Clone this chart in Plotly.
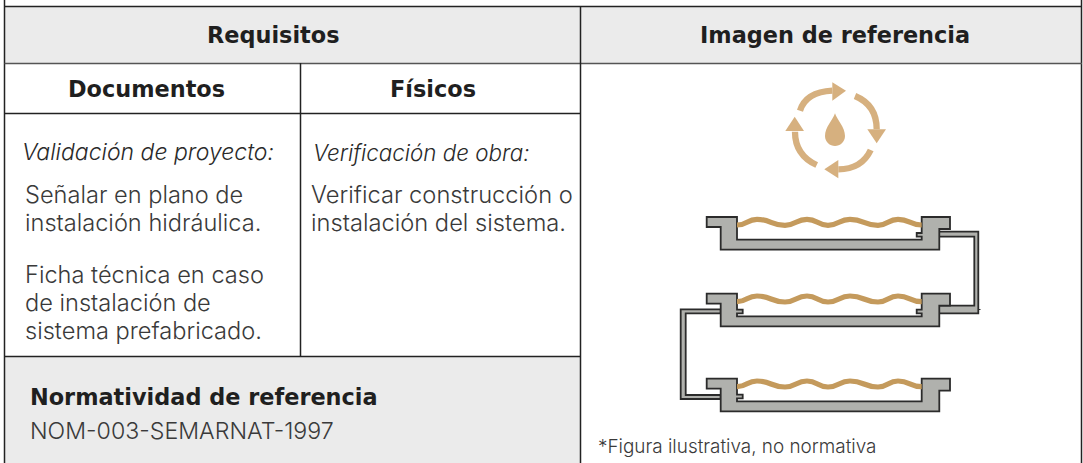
import plotly.graph_objects as go

FONT = "Inter"
BOLD_FONT = "DejaVu Sans"
INK = "#1f1f1f"
TEXT = "#3a3a3a"
GOLD = "#d6b07f"
WAVE = "#c49a5c"
STEEL = "#b0b1ad"
EDGE = "#2b2b2b"
LINE = "#222222"
HEAD = "#ebebeb"

titles = ["Requisitos", "Imagen de referencia", "Documentos", "Físicos", "Normatividad de referencia"]
subtitles = ["Validación de proyecto:", "Verificación de obra:"]
doc_lines = ["Señalar en plano de", "instalación hidráulica.", "Ficha técnica en caso", "de instalación de", "sistema prefabricado."]
phys_lines = ["Verificar construcción o", "instalación del sistema."]
norm = "NOM-003-SEMARNAT-1997"
note = "*Figura ilustrativa, no normativa"

shapes = []
annos = []

def rect(x0, y0, x1, y1, fill):
    shapes.append(dict(type="rect", x0=x0, y0=y0, x1=x1, y1=y1, fillcolor=fill, line=dict(width=0), layer="below"))

def seg(x0, y0, x1, y1, w=1.5, c=LINE):
    shapes.append(dict(type="line", x0=x0, y0=y0, x1=x1, y1=y1, line=dict(color=c, width=w)))

def path(d, fill=None, line=None, w=0):
    shapes.append(dict(type="path", path=d, fillcolor=fill or "rgba(0,0,0,0)",
                       line=dict(color=line or "rgba(0,0,0,0)", width=w)))

def txt(s, x, y, size, anchor="left", weight=300, color=TEXT, style="normal", family=FONT):
    annos.append(dict(text=s, x=x, y=y, xref="x", yref="y", xanchor=anchor, yanchor="middle",
                      xshift=-3 if anchor == "left" else 0,
                      showarrow=False, font=dict(family=family, size=size, color=color, weight=weight, style=style)))

def head(s, x, y, anchor="center"):
    txt(s, x, y, 22.4, anchor, 700, INK, family=BOLD_FONT)

# table
rect(5, 6, 1081, 63, HEAD)
rect(5, 356, 580, 463, HEAD)
seg(4.5, 0, 4.5, 463)
seg(1081.5, 0, 1081.5, 463)
seg(4.5, 6.5, 1082, 6.5)
seg(4.5, 63.5, 1082, 63.5, c="#555555")
seg(4.5, 113.5, 580, 113.5)
seg(4.5, 356.5, 580, 356.5)
seg(300.5, 63, 300.5, 356.5)
seg(580.5, 6, 580.5, 463)

# text
head(titles[0], 273.5, 35)
head(titles[1], 835, 35)
head(titles[2], 146, 89)
head(titles[3], 432.5, 89)
head(titles[4], 31, 397, "left")
txt(subtitles[0], 23, 152, 23, style="italic", color="#2a2a2a")
txt(subtitles[1], 314, 152, 22.4, style="italic", color="#2a2a2a")
for s, y in zip(doc_lines, [194, 222, 274, 302, 330]):
    txt(s, 26, y, 23.6)
for s, y in zip(phys_lines, [194, 222]):
    txt(s, 312, y, 23.7)
txt(norm, 31, 430.5, 23.2)
txt(note, 599, 446, 18.9)

# icon
for d in ["M800,110.7 Q806,92 832.3,90.7", "M855,96 Q876.7,105 876.7,129.3",
          "M870.7,150 Q861.7,169.3 838.3,169.3", "M816.7,165 Q795,155 795,131.7"]:
    path(d, line=GOLD, w=6.3)
for d in ["M832.3,82.3 L832.3,100.7 L846,90.7 Z", "M867.3,129.3 L886,129.3 L876.7,143.3 Z",
          "M838.3,160 L838.3,178.3 L824.3,169.3 Z", "M785.3,131 L804,131 L794.7,116.7 Z"]:
    path(d, fill=GOLD)
path("M835,113.3 C833,120 825,127 825,136 C825,142 830,146 835,146 C840,146 845,142 845,136 C845,127 837,120 835,113.3 Z", fill=GOLD)

# pipes
path("M939,231.7 L978.3,231.7 L978.3,313.3 L939,313.3 L939,305.7 L974.3,305.7 L974.3,236.7 L939,236.7 Z",
     fill=STEEL, line=EDGE, w=1.8)
path("M720.7,309.3 L680.7,309.3 L680.7,399 L720.7,399 L720.7,395 L685.7,395 L685.7,313.3 L720.7,313.3 Z",
     fill=STEEL, line=EDGE, w=1.8)
seg(978, 309.5, 980.5, 309.5, w=1, c=EDGE)

def panel(t, left_notch, right_notch):
    p = [(706.7, t), (950, t), (950, t + 12), (939.3, t + 12), (939.3, t + 32.7), (720.7, t + 32.7),
         (720.7, t + 10), (706.7, t + 10)]
    # inner channel, walked from the right wall to the left wall
    inner = [(921.7, t)]
    if right_notch:
        inner += [(921.7, t + 16), (916.7, t + 16), (916.7, t + 19.7), (921.7, t + 19.7)]
    inner += [(921.7, t + 22.7), (737, t + 22.7)]
    if left_notch:
        inner += [(737, t + 19.7), (742.7, t + 19.7), (742.7, t + 16), (737, t + 16)]
    inner += [(737, t)]
    pts = [p[0], inner[-1]] + inner[::-1][1:] + [p[1], p[2], p[3], p[4], p[5], p[6], p[7]]
    d = "M" + " L".join(f"{x},{y}" for x, y in pts) + " Z"
    path(d, fill=STEEL, line=EDGE, w=1.8)
    xs = [737, 757, 785, 807, 828, 850, 878, 898, 921.7]
    ys = [t + 8, t + 2.3, t + 8.3, t + 2.3, t + 8.3, t + 2.3, t + 8.3, t + 2.3, t + 8]
    d = f"M{xs[0]},{ys[0]}"
    for i in range(1, len(xs)):
        mx = (xs[i - 1] + xs[i]) / 2
        d += f" C{mx},{ys[i-1]} {mx},{ys[i]} {xs[i]},{ys[i]}"
    path(d, line=WAVE, w=5.2)

panel(217, False, True)
panel(293.7, True, True)
panel(378.7, True, False)

fig = go.Figure()
fig.update_layout(width=1083, height=463, margin=dict(l=0, r=0, t=0, b=0), showlegend=False,
                  paper_bgcolor="white", plot_bgcolor="white", shapes=shapes, annotations=annos,
                  xaxis=dict(range=[0, 1083], visible=False, fixedrange=True),
                  yaxis=dict(range=[463, 0], visible=False, fixedrange=True))
fig.write_html("out.html", config=dict(displayModeBar=False),
               post_script="document.body.style.margin='0';document.documentElement.style.overflow='hidden';")
